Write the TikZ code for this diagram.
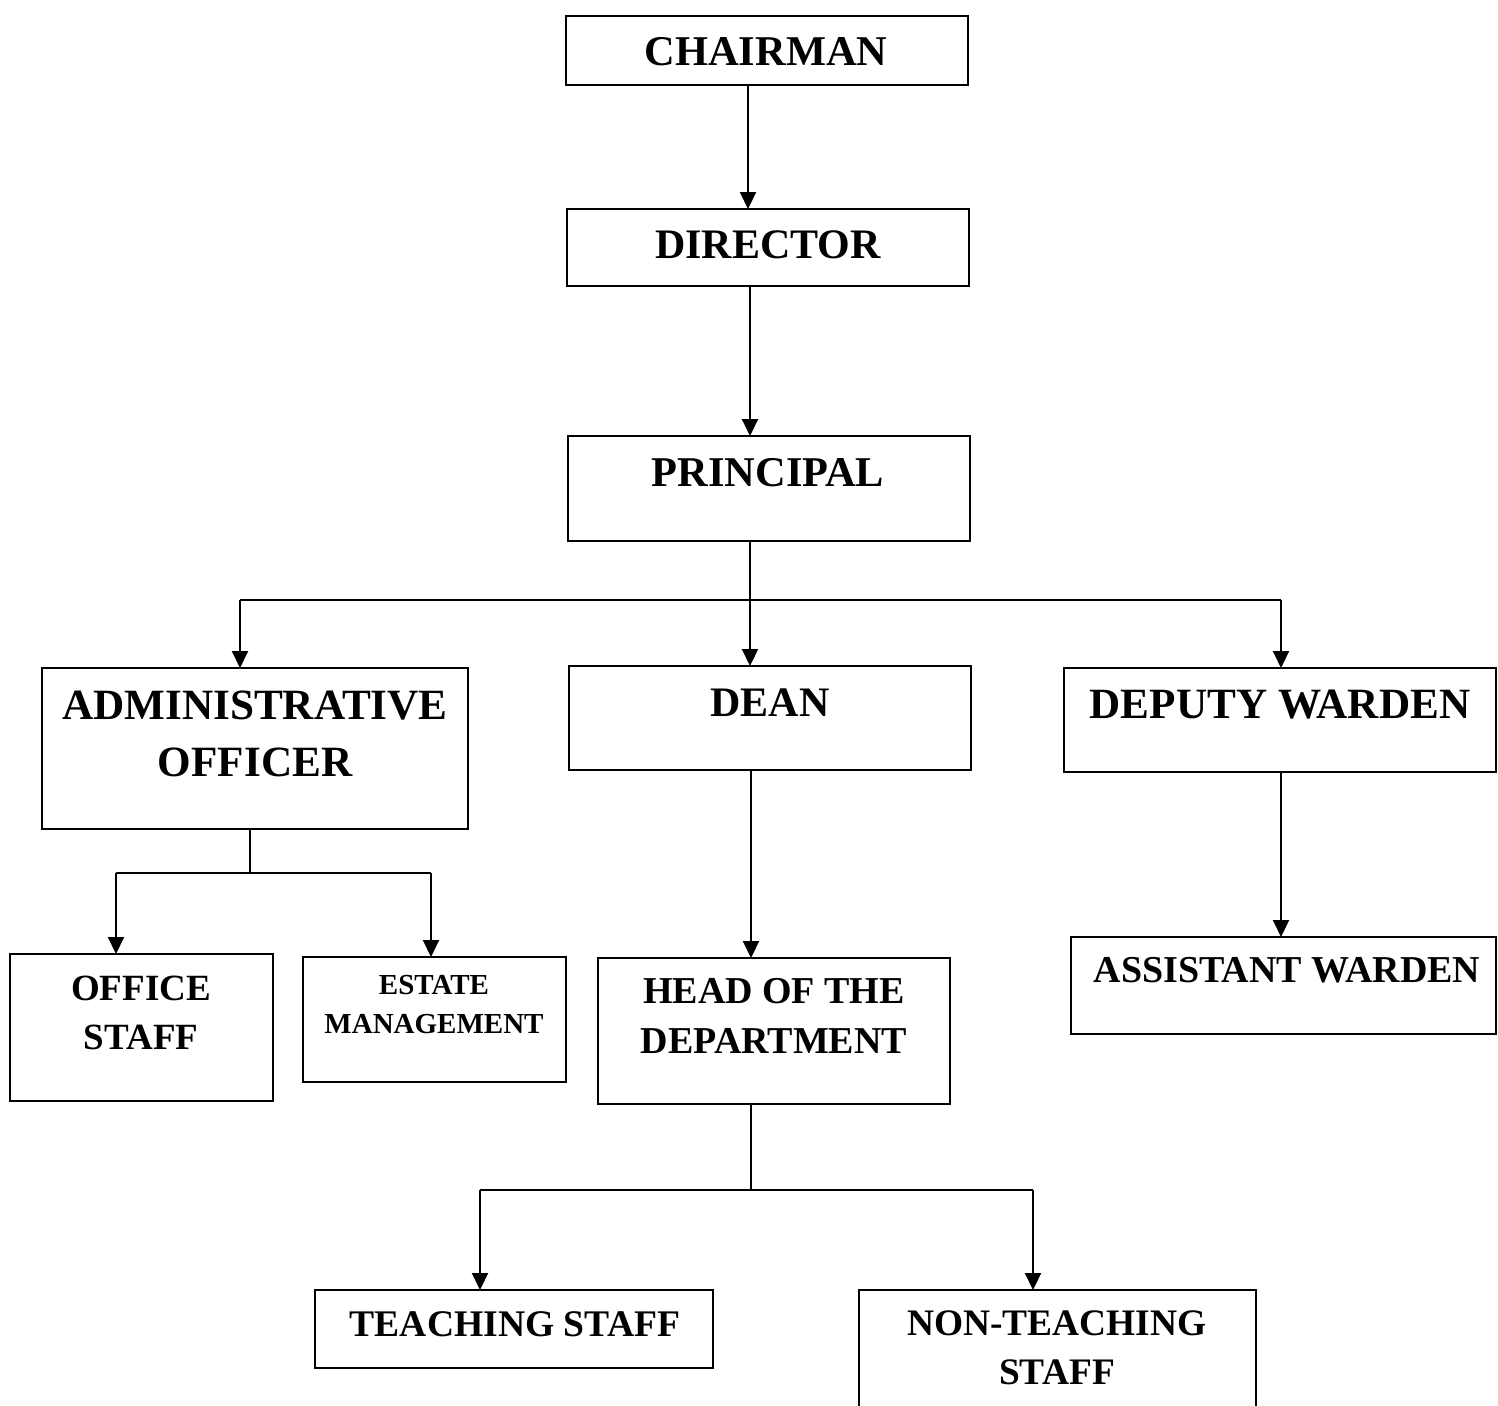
\documentclass[tikz,border=0pt]{standalone}
\usepackage{fontspec}
\setmainfont{Liberation Serif}
\usetikzlibrary{arrows.meta}
\tikzset{
  box/.style={draw, line width=1pt, inner sep=0pt, outer sep=0pt, anchor=north west},
  lbl/.style={align=center, inner sep=0pt, font=\bfseries\fontsize{#1}{#1}\selectfont},
  conn/.style={line width=1pt},
  arr/.style={line width=1pt, -{Triangle[length=8.5pt,width=8pt]}}
}
\newcommand{\fs}[2]{\fontsize{#1}{#2}\selectfont}
\begin{document}
\begin{tikzpicture}[x=0.5pt,y=-0.5pt]
\useasboundingbox (0,0) rectangle (1498,1405);
% boxes
\node[box, minimum width=201pt, minimum height=34.5pt] (chair) at (566,16) {};
\node[box, minimum width=201pt, minimum height=38.5pt] (dir) at (567,209) {};
\node[box, minimum width=201pt, minimum height=52.5pt] (prin) at (568,436) {};
\node[box, minimum width=213pt, minimum height=80.5pt] (admin) at (42,668) {};
\node[box, minimum width=201pt, minimum height=52pt] (dean) at (569,666) {};
\node[box, minimum width=216pt, minimum height=52pt] (dep) at (1064,668) {};
\node[box, minimum width=131.5pt, minimum height=73.5pt] (office) at (10,954) {};
\node[box, minimum width=131.5pt, minimum height=62.5pt] (estate) at (303,957) {};
\node[box, minimum width=176pt, minimum height=73pt] (hod) at (598,958) {};
\node[box, minimum width=212.5pt, minimum height=48.5pt] (asst) at (1071,937) {};
\node[box, minimum width=199pt, minimum height=39pt] (teach) at (315,1290) {};
\node[box, minimum width=198.5pt, minimum height=70pt] (nonteach) at (859,1290) {};
% labels
\node[lbl=21.2] (chairT) at (766,52) {CHAIRMAN};
\node[lbl=21] (dirT) at (768,245) {DIRECTOR};
\node[lbl=21.2] (prinT) at (768,473) {PRINCIPAL};
\node[align=center, inner sep=0pt, font=\bfseries\fs{21.6}{28.5}] (adminT) at (255,733.5) {ADMINISTRATIVE\\OFFICER};
\node[lbl=21] (deanT) at (770,703) {DEAN};
\node[lbl=21.6] (depT) at (1280,705) {DEPUTY WARDEN};
\node[align=center, inner sep=0pt, font=\bfseries\fs{18.5}{24.5}] (officeT) at (141,1012.5) {OFFICE\\STAFF};
\node[align=center, inner sep=0pt, font=\bfseries\fs{14.5}{19.5}] (estateT) at (434,1004.5) {ESTATE\\MANAGEMENT};
\node[align=center, inner sep=0pt, font=\bfseries\fs{19}{25}] (hodT) at (774,1016) {HEAD OF THE\\DEPARTMENT};
\node[lbl=19] (asstT) at (1287,970) {ASSISTANT WARDEN};
\node[lbl=18.8] (teachT) at (515,1324) {TEACHING STAFF};
\node[align=center, inner sep=0pt, font=\bfseries\fs{18.7}{24.5}] (nonteachT) at (1057,1347.5) {NON-TEACHING\\STAFF};
% junction coordinates
\coordinate (xa) at (748,0);
\coordinate (xb) at (750,0);
\coordinate (xd) at (751,0);
\coordinate (j1) at (750,600);
\coordinate (jL) at (240,600);
\coordinate (jR) at (1281,600);
\coordinate (j2) at (250,873);
\coordinate (j2L) at (116,873);
\coordinate (j2R) at (431,873);
\coordinate (j3) at (751,1190);
\coordinate (j3L) at (480,1190);
\coordinate (j3R) at (1033,1190);
% connectors
\draw[arr] (chair.south -| xa) -- (dir.north -| xa);
\draw[arr] (dir.south -| xb) -- (prin.north -| xb);
\draw[conn] (prin.south -| xb) -- (j1);
\draw[conn] (jL) -- (jR);
\draw[arr] (j1) -- (dean.north -| j1);
\draw[arr] (jL) -- (admin.north -| jL);
\draw[arr] (jR) -- (dep.north -| jR);
\draw[conn] (admin.south -| j2) -- (j2);
\draw[conn] (j2L) -- (j2R);
\draw[arr] (j2L) -- (office.north -| j2L);
\draw[arr] (j2R) -- (estate.north -| j2R);
\draw[arr] (dean.south -| xd) -- (hod.north -| xd);
\draw[arr] (dep.south -| jR) -- (asst.north -| jR);
\draw[conn] (hod.south -| j3) -- (j3);
\draw[conn] (j3L) -- (j3R);
\draw[arr] (j3L) -- (teach.north -| j3L);
\draw[arr] (j3R) -- (nonteach.north -| j3R);
\end{tikzpicture}
\end{document}
